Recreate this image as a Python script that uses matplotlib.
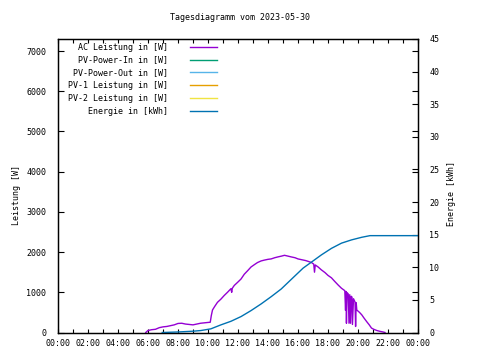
import matplotlib
matplotlib.use("Agg")
import matplotlib.pyplot as plt
from matplotlib.ticker import MultipleLocator, FixedLocator

# ---- data ----
title = "Tagesdiagramm vom 2023-05-30"
series_names = ["AC Leistung in [W]", "PV-Power-In in [W]", "PV-Power-Out in [W]",
                "PV-1 Leistung in [W]", "PV-2 Leistung in [W]", "Energie in [kWh]"]
series_colors = ["#9400D3", "#009E73", "#56B4E9", "#E69F00", "#F0E442", "#0072B2"]

ac_hours = [5.85, 6.0, 6.25, 6.5, 6.75, 7.0, 7.25, 7.5, 7.75, 8.0, 8.25, 8.5, 8.75, 9.0,
            9.25, 9.5, 9.75, 10.0, 10.15, 10.22, 10.3, 10.45, 10.63, 10.86, 11.08, 11.3,
            11.53, 11.58, 11.62, 11.75, 11.98, 12.2, 12.42, 12.65, 12.87, 13.1, 13.3,
            13.54, 13.75, 14.0, 14.21, 14.45, 14.66, 14.9, 15.1, 15.33, 15.55, 15.8,
            16.0, 16.25, 16.5, 16.67, 16.9, 17.05, 17.1, 17.15, 17.34, 17.55, 17.8,
            18.0, 18.23, 18.45, 18.68, 18.9, 19.05, 19.12, 19.17, 19.2, 19.23, 19.27,
            19.35, 19.4, 19.45, 19.5, 19.55, 19.6, 19.63, 19.7, 19.8, 19.84, 19.88,
            19.92, 20.1, 20.25, 20.4, 20.58, 20.75, 20.9, 21.05, 21.25, 21.45, 21.65, 21.8]
ac_power = [0, 50, 70, 80, 120, 140, 150, 170, 190, 225, 230, 210, 200, 190,
            210, 230, 240, 250, 255, 420, 560, 650, 750, 830, 920, 1000,
            1090, 1000, 1100, 1170, 1250, 1330, 1450, 1540, 1630, 1690, 1740,
            1780, 1800, 1820, 1830, 1860, 1880, 1900, 1920, 1900, 1880, 1860,
            1830, 1810, 1790, 1770, 1740, 1700, 1500, 1680, 1630, 1560, 1490,
            1420, 1360, 1270, 1180, 1100, 1060, 1040, 550, 1020, 230, 990,
            960, 230, 940, 230, 900, 880, 200, 840, 760, 150, 740,
            560, 500, 440, 360, 270, 190, 110, 80, 50, 30, 15, 0]

energy_hours = [6.95, 8.0, 9.0, 9.52, 10.19, 10.86, 11.53, 12.2, 12.87, 13.54, 14.21,
                14.88, 15.6, 16.34, 16.9, 17.56, 18.23, 18.9, 19.57, 20.25, 20.8, 24.0]
energy_kwh = [0.0, 0.08, 0.2, 0.3, 0.56, 1.17, 1.72, 2.44, 3.36, 4.38, 5.49,
              6.67, 8.25, 9.87, 10.8, 11.9, 12.9, 13.7, 14.2, 14.6, 14.85, 14.85]

pv_in_hours, pv_in_power = [], []
pv_out_hours, pv_out_power = [], []
pv1_hours, pv1_power = [], []
pv2_hours, pv2_power = [], []

x_tick_hours = [0, 2, 4, 6, 8, 10, 12, 14, 16, 18, 20, 22, 24]
x_tick_labels = ["00:00", "02:00", "04:00", "06:00", "08:00", "10:00", "12:00",
                 "14:00", "16:00", "18:00", "20:00", "22:00", "00:00"]
y1_ticks = [0, 1000, 2000, 3000, 4000, 5000, 6000, 7000]
y2_ticks = [0, 5, 10, 15, 20, 25, 30, 35, 40, 45]

# ---- figure ----
plt.rcParams['font.family'] = ['DejaVu Sans Mono']
plt.rcParams['font.size'] = 6

fig = plt.figure(figsize=(4.8, 3.6), dpi=100)
W, H = 480.0, 360.0
L, R, T, B = 58, 418, 39, 332.5
ax = fig.add_axes([L / W, 1 - B / H, (R - L) / W, (B - T) / H])
ax2 = ax.twinx()

lines = []
lines += ax.plot(ac_hours, ac_power, color=series_colors[0], lw=1.0, label=series_names[0])
lines += ax.plot(pv_in_hours, pv_in_power, color=series_colors[1], lw=1.0, label=series_names[1])
lines += ax.plot(pv_out_hours, pv_out_power, color=series_colors[2], lw=1.0, label=series_names[2])
lines += ax.plot(pv1_hours, pv1_power, color=series_colors[3], lw=1.0, label=series_names[3])
lines += ax.plot(pv2_hours, pv2_power, color=series_colors[4], lw=1.0, label=series_names[4])
lines += ax2.plot(energy_hours, energy_kwh, color=series_colors[5], lw=1.0, label=series_names[5])

ax.set_xlim(0, 24)
ax.set_ylim(0, 7300)
ax2.set_ylim(0, 45)

ax.xaxis.set_major_locator(FixedLocator(x_tick_hours))
ax.set_xticklabels(x_tick_labels)
ax.xaxis.set_minor_locator(MultipleLocator(1))
ax.set_yticks(y1_ticks)
ax2.set_yticks(y2_ticks)

ax.tick_params(axis='x', which='both', direction='in', top=True, length=3, width=0.8, pad=5)
ax.tick_params(axis='y', which='both', direction='in', right=True, length=4, width=0.8, pad=8.5)
ax2.tick_params(axis='y', direction='in', length=4, width=0.8, pad=8)
for a in (ax, ax2):
    for s in a.spines.values():
        s.set_linewidth(0.9)

leg = ax.legend(handles=lines, loc='upper left', markerfirst=False, frameon=False,
                bbox_to_anchor=(10 / (R - L), 1 - 3.5 / (B - T)), borderpad=0, borderaxespad=0,
                handlelength=3.3, handletextpad=2.6, labelspacing=0.47, fontsize=6)

fig.text(0.5, 1 - 18 / H, title, ha='center', va='center', fontsize=6)
fig.text(16.5 / W, 1 - 195 / H, "Leistung [W]", rotation=90, ha='center', va='center', fontsize=6)
fig.text(452 / W, 1 - 194 / H, "Energie [kWh]", rotation=90, ha='center', va='center', fontsize=6)

fig.savefig("out.png", dpi=100)
